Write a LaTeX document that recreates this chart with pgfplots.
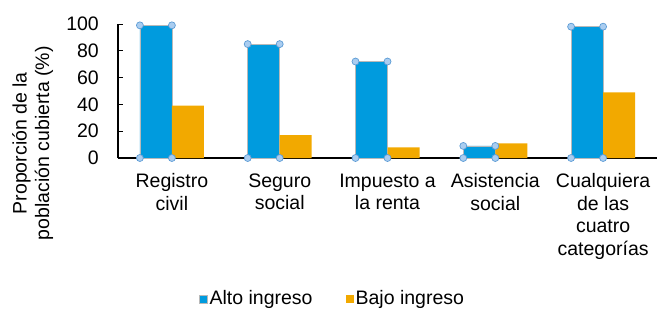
\documentclass[border=0pt]{standalone}
\usepackage{fontspec}
\setmainfont{Liberation Sans}
\usepackage{pgfplots}
\pgfplotsset{compat=1.18}
\definecolor{cblue}{RGB}{0,155,222}
\definecolor{corange}{RGB}{242,169,0}
\definecolor{hfill}{RGB}{170,205,240}
\definecolor{hedge}{RGB}{91,155,213}
\definecolor{bedge}{RGB}{185,185,185}
\begin{document}
\fontsize{19.5}{22.5}\selectfont
\begin{tikzpicture}
\begin{axis}[
  scale only axis, width=539pt, height=134pt,
  xmin=-0.5, xmax=4.5, ymin=0, ymax=100,
  axis lines=left,
  axis line style={-, black, line width=1.3pt},
  ytick={0,20,40,60,80,100},
  xtick={0,1,2,3,4},
  xticklabels={Registro\\civil, Seguro\\social, Impuesto a\\la renta, Asistencia\\social, Cualquiera\\de las\\cuatro\\categorías},
  xticklabel style={align=center, yshift=-9pt, font=\fontsize{19.5}{22.5}\selectfont},
  yticklabel style={xshift=-12.5pt, font=\fontsize{19.5}{22.5}\selectfont},
  /pgf/number format/assume math mode=true,
  x tick style={draw=none},
  y tick style={black, line width=1pt},
  tick align=inside, major tick length=5pt,
  ylabel={Proporción de la\\población cubierta (\%)},
  ylabel style={align=center, at={(ticklabel cs:0.11)}, font=\fontsize{19.5}{22.5}\selectfont},
  clip=false,
  legend columns=2,
  legend style={draw=none, fill=none, at={(0.398,-1.052)}, anchor=center,
    font=\fontsize{19.5}{22.5}\selectfont, /tikz/every even column/.append style={column sep=31pt}},
  legend image code/.code={\fill[#1] (-9.5pt,-4pt) rectangle (-1.5pt,4pt);},
]
\addplot[ybar, bar width=32pt, bar shift=-16pt, fill=cblue, draw=bedge, line width=0.6pt]
  coordinates {(0,99) (1,85) (2,72) (3,9) (4,98)};
\addlegendentry{Alto ingreso}
\addplot[ybar, bar width=32pt, bar shift=16pt, fill=corange, draw=none]
  coordinates {(0,39) (1,17) (2,8) (3,11) (4,49)};
\addlegendentry{Bajo ingreso}
\addplot[only marks, mark=*, mark size=3.5pt, mark options={fill=hfill, draw=hedge, line width=0.7pt}, forget plot]
  coordinates {
   (-0.2968,0) (0,0) (-0.2968,99) (0,99)
   (0.7032,0) (1,0) (0.7032,85) (1,85)
   (1.7032,0) (2,0) (1.7032,72) (2,72)
   (2.7032,0) (3,0) (2.7032,9) (3,9)
   (3.7032,0) (4,0) (3.7032,98) (4,98)
  };
\end{axis}
\pgfresetboundingbox
\path ([xshift=-118pt,yshift=24pt]current axis.north west) rectangle ([yshift=-152pt]current axis.south east);
\end{tikzpicture}
\end{document}
